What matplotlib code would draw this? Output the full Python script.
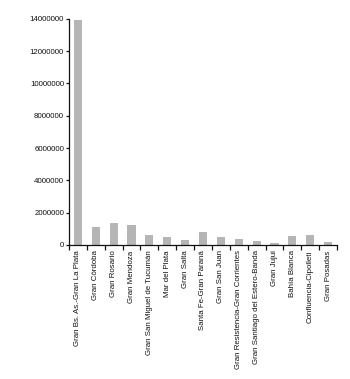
import matplotlib
matplotlib.use("Agg")
import matplotlib.pyplot as plt
from matplotlib.ticker import FixedLocator, FuncFormatter

categories = [
    "Gran Bs. As.-Gran La Plata", "Gran Córdoba", "Gran Rosario", "Gran Mendoza",
    "Gran San Miguel de Tucumán", "Mar del Plata", "Gran Salta",
    "Santa Fe-Gran Paraná", "Gran San Juan", "Gran Resistencia-Gran Corrientes",
    "Gran Santiago del Estero-Banda", "Gran Jujui", "Bahía Blanca",
    "Confluencia-Cipolleti", "Gran Posadas",
]
values = [13950000, 1090000, 1380000, 1260000, 600000, 480000, 310000,
          800000, 460000, 370000, 250000, 100000, 520000, 600000, 170000]
yticks = [0, 2000000, 4000000, 6000000, 8000000, 10000000, 12000000, 14000000]

plt.rcParams['font.family'] = ['Liberation Sans Narrow', 'Liberation Sans', 'DejaVu Sans']

fig = plt.figure(figsize=(3.5, 3.79), dpi=100)
ax = fig.add_axes([0.197, 0.354, 0.766, 0.596])
x = list(range(len(categories)))
ax.bar(x, values, width=0.45, color="#b3b5b7")
ax.set_xlim(-0.5, len(categories) - 0.5)
ax.set_ylim(0, 14000000)
ax.set_yticks(yticks)
ax.yaxis.set_major_formatter(FuncFormatter(lambda v, p: f"{int(v)}"))
ax.set_xticks(x)
ax.set_xticklabels(categories, rotation=90, fontsize=5.7, color="#111111")
ax.tick_params(axis='x', which='major', length=0, pad=4)
ax.xaxis.set_minor_locator(FixedLocator([i + 0.5 for i in range(-1, len(categories))]))
ax.tick_params(axis='x', which='minor', length=3.5, width=0.9, color="#111111")
ax.tick_params(axis='y', labelsize=5.7, length=2.5, width=0.9, color="#111111", labelcolor="#111111", pad=1)
for s in ['top', 'right']:
    ax.spines[s].set_visible(False)
for s in ['left', 'bottom']:
    ax.spines[s].set_color("#111111")
    ax.spines[s].set_linewidth(0.9)
fig.savefig("out.png", dpi=100)
